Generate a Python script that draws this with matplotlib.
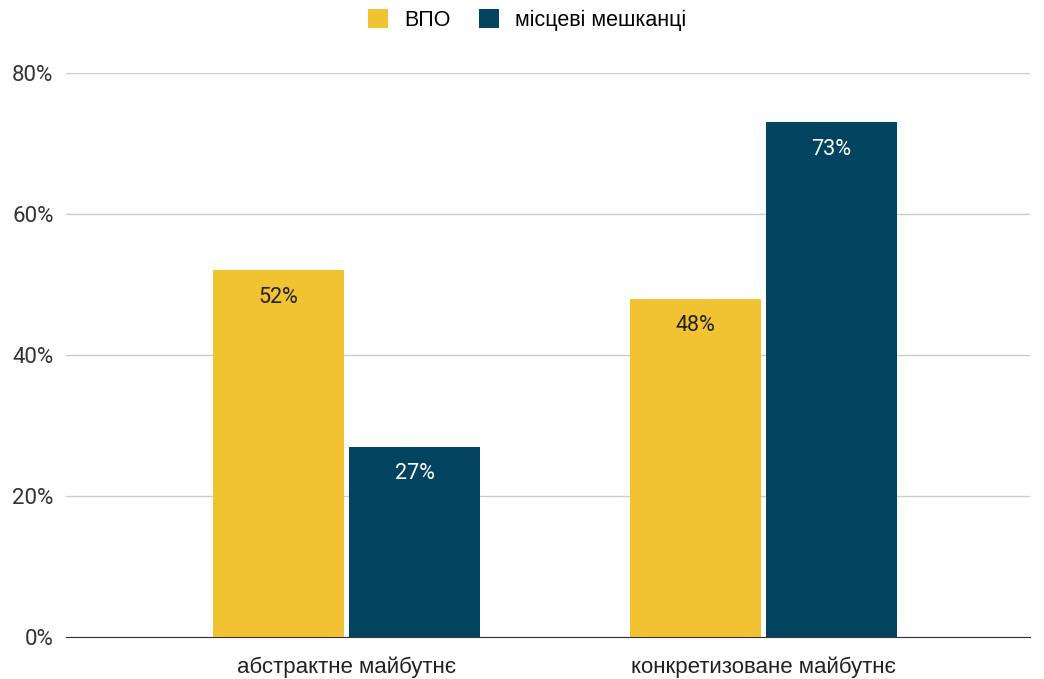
import matplotlib
matplotlib.use('Agg')
import matplotlib.pyplot as plt
import numpy as np

# дані
categories = ['абстрактне майбутнє', 'конкретизоване майбутнє']
series_names = ['ВПО', 'місцеві мешканці']
vpo = [0.52, 0.48]
locals_ = [0.27, 0.73]
yticks = [0, 0.2, 0.4, 0.6, 0.8]

colors = ['#F1C232', '#02445F']
plt.rcParams['font.family'] = ['Roboto', 'DejaVu Sans']

fig = plt.figure(figsize=(10.44, 6.79), dpi=100)
ax = fig.add_axes([66 / 1044, 1 - 637 / 679, 964 / 1044, 564 / 679])

x = np.arange(len(categories))
w = 0.314
off = 0.163
b1 = ax.bar(x - off, vpo, w, color=colors[0], label=series_names[0], zorder=3)
b2 = ax.bar(x + off, locals_, w, color=colors[1], label=series_names[1], zorder=3)

for bars, vals, tc in [(b1, vpo, '#222222'), (b2, locals_, 'white')]:
    for r, v in zip(bars, vals):
        ax.annotate(f'{v:.0%}', (r.get_x() + r.get_width() / 2, v),
                    xytext=(0, -27), textcoords='offset pixels',
                    ha='center', va='center', fontsize=15.5, color=tc, zorder=4)

ax.set_xlim(-0.673, 1.639)
ax.set_ylim(0, 0.8)
ax.set_yticks(yticks)
ax.set_yticklabels([f'{t:.0%}' for t in yticks], fontsize=16, color='#333333')
ax.set_xticks(x)
ax.set_xticklabels(categories, fontsize=16, color='#222222',
                   family=['Liberation Sans', 'DejaVu Sans'])
ax.tick_params(axis='y', length=0, pad=9)
ax.tick_params(axis='x', length=0, pad=14)
ax.grid(axis='y', color='#cccccc', linewidth=1, zorder=0)
for s in ['top', 'right', 'left']:
    ax.spines[s].set_visible(False)
ax.spines['bottom'].set_color('#333333')
ax.spines['bottom'].set_zorder(5)

fig.legend(loc='center', bbox_to_anchor=(527 / 1044, 1 - 20 / 679), ncol=2,
           frameon=False, handlelength=0.95, handleheight=0.95, columnspacing=1.3,
           handletextpad=0.75, prop={'family': ['Liberation Sans', 'DejaVu Sans'], 'size': 15.5})

fig.savefig('out.png', dpi=100)
